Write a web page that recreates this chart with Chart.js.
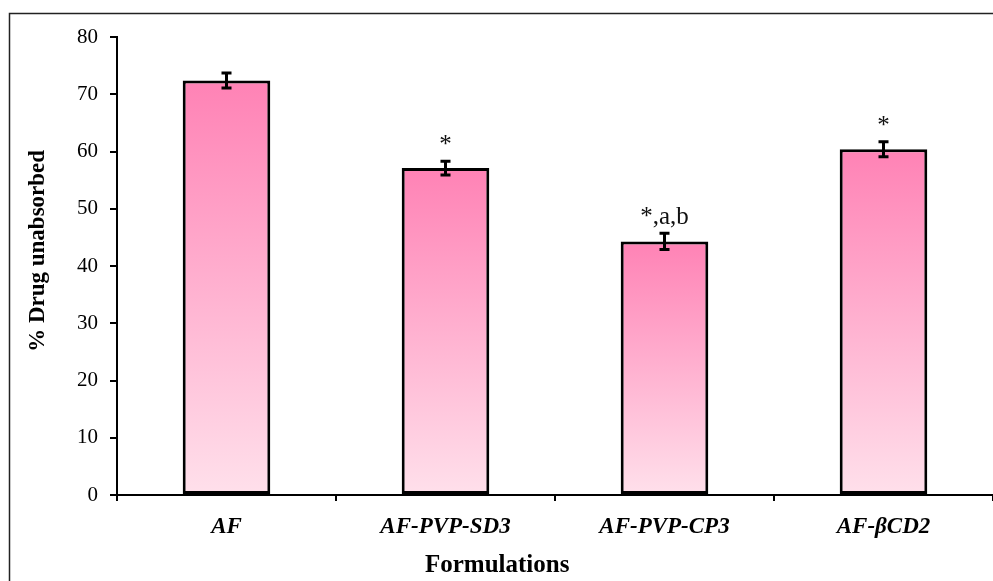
<!DOCTYPE html>
<html>
<head>
<meta charset="utf-8">
<script src="https://cdn.jsdelivr.net/npm/chart.js@4"></script>
<style>
  html, body { margin: 0; padding: 0; background: #fff; }
  #wrap { width: 993px; height: 581px; position: relative; }
</style>
</head>
<body>
<div id="wrap"><canvas id="chart" width="993" height="581"></canvas></div>
<script>
const formulations = ["AF", "AF-PVP-SD3", "AF-PVP-CP3", "AF-\u03b2CD2"];
const unabsorbed = [72.4, 57.1, 44.3, 60.4];
const errors = [1.3, 1.2, 1.4, 1.3];
const marks = ["", "*", "*,a,b", "*"];
const yTicks = [0, 10, 20, 30, 40, 50, 60, 70, 80];
const xTitle = "Formulations";
const yTitle = "% Drug unabsorbed";

const serif = "'Liberation Serif', 'Times New Roman', serif";

// error bars, significance marks and both axis titles (placed off-centre, as in the original)
const extras = {
    id: "extras",
    afterDatasetsDraw(chart) {
        const c = chart.ctx;
        const x = chart.scales.x, y = chart.scales.y;
        c.save();
        c.strokeStyle = "#000";
        c.lineWidth = 3;
        unabsorbed.forEach((v, i) => {
            const px = x.getPixelForValue(i);
            const top = y.getPixelForValue(v + errors[i]);
            const bot = y.getPixelForValue(v - errors[i]);
            c.beginPath();
            c.moveTo(px, top); c.lineTo(px, bot);
            c.moveTo(px - 5, top); c.lineTo(px + 5, top);
            c.moveTo(px - 5, bot); c.lineTo(px + 5, bot);
            c.stroke();
            if (marks[i]) {
                c.fillStyle = "#111";
                c.font = "25px " + serif;
                c.textAlign = "center";
                c.textBaseline = "alphabetic";
                c.fillText(marks[i], px, top - 9);
            }
        });
        c.fillStyle = "#000";
        c.textAlign = "center";
        c.textBaseline = "alphabetic";
        c.font = "bold 25px " + serif;
        c.fillText(xTitle, x.left + x.width * 0.434, 572);

        c.font = "bold 23px " + serif;
        c.textBaseline = "middle";
        c.translate(38, y.top + y.height * 0.467);
        c.rotate(-Math.PI / 2);
        c.fillText(yTitle, 0, 0);
        c.restore();
    },
    beforeDraw(chart) {
        const c = chart.ctx;
        c.save();
        c.strokeStyle = "#222";
        c.lineWidth = 1.5;
        c.strokeRect(9.5, 13.5, 1100, 700);
        c.restore();
    }
};

new Chart(document.getElementById("chart"), {
    type: "bar",
    data: {
        labels: formulations,
        datasets: [{
            data: unabsorbed,
            backgroundColor: function (ctx) {
                const chart = ctx.chart;
                if (!chart.chartArea) return "#ff9cc4";
                const y = chart.scales.y;
                const top = y.getPixelForValue(ctx.raw);
                const base = y.getPixelForValue(0);
                const g = chart.ctx.createLinearGradient(0, top, 0, base);
                g.addColorStop(0, "#ff82b5");
                g.addColorStop(1, "#ffe0eb");
                return g;
            },
            borderColor: "#000",
            borderWidth: 3,
            borderSkipped: false,
            barPercentage: 0.4,
            categoryPercentage: 1
        }]
    },
    options: {
        responsive: false,
        animation: false,
        devicePixelRatio: 1,
        layout: { padding: { top: 37, right: 0, bottom: 0, left: 0 } },
        plugins: { legend: { display: false }, tooltip: { enabled: false } },
        scales: {
            x: {
                afterFit(scale) { scale.height = 86; },
                grid: { drawOnChartArea: false, color: "#000", lineWidth: 2, tickLength: 6, offset: true },
                border: { color: "#000", width: 2 },
                ticks: {
                    color: "#000",
                    padding: 12,
                    font: { family: serif, size: 23, weight: "bold", style: "italic" }
                }
            },
            y: {
                min: 0,
                max: 80,
                afterFit(scale) { scale.width = 117; },
                afterBuildTicks(scale) { scale.ticks = yTicks.map(v => ({ value: v })); },
                grid: { drawOnChartArea: false, color: "#000", lineWidth: 2, tickLength: 7 },
                border: { color: "#000", width: 2 },
                ticks: {
                    color: "#000",
                    padding: 12,
                    font: { family: serif, size: 21 }
                }
            }
        }
    },
    plugins: [extras]
});
</script>
</body>
</html>
